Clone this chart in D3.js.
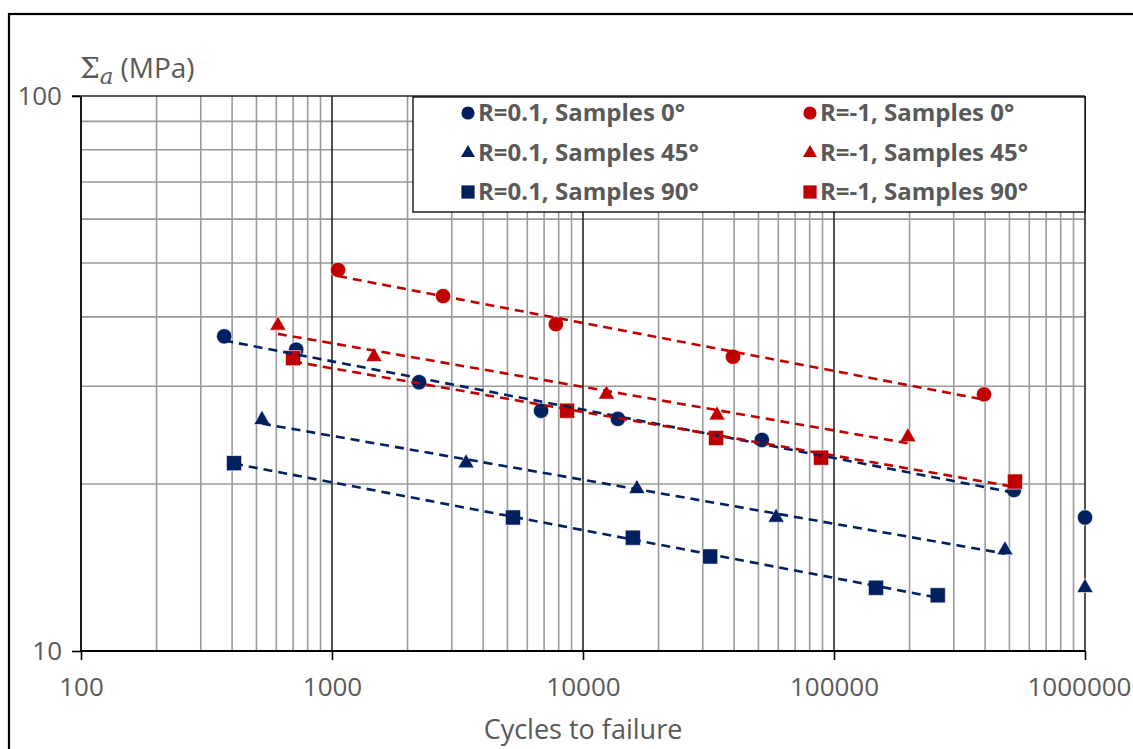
<!DOCTYPE html>
<html><head><meta charset="utf-8">
<script src="https://cdn.jsdelivr.net/npm/d3@7"></script>
<style>body{margin:0;background:#fff}svg{display:block}</style>
</head><body>
<script>
// ---- data (cycles, stress amplitude MPa) ----
const r01_0_N  = [372, 720, 2223, 6810, 13770, 51600, 521000];
const r01_0_S  = [36.9, 34.9, 30.5, 27.1, 26.2, 24.0, 19.5];
const r01_45_N = [526, 3420, 16400, 58800, 480000];
const r01_45_S = [26.1, 21.8, 19.6, 17.4, 15.2];
const r01_90_N = [407, 5260, 15800, 32100, 147000, 259000];
const r01_90_S = [21.8, 17.4, 16.0, 14.8, 13.0, 12.6];
const rm1_0_N  = [1057, 2770, 7800, 39600, 396000];
const rm1_0_S  = [48.6, 43.6, 38.8, 33.9, 29.0];
const rm1_45_N = [609, 1470, 12400, 34200, 197000];
const rm1_45_S = [38.6, 33.9, 29.0, 26.6, 24.3];
const rm1_90_N = [700, 8630, 33900, 88800, 526000];
const rm1_90_S = [33.7, 27.1, 24.2, 22.3, 20.2];
// run-outs (not included in trend lines)
const runout_0_N = [1000000];  const runout_0_S = [17.4];
const runout_45_N = [1000000]; const runout_45_S = [13.0];

const xTicks = [100, 1000, 10000, 100000, 1000000];
const yTicks = [10, 100];
const legendLabels = ["R=0.1, Samples 0°","R=-1, Samples 0°","R=0.1, Samples 45°","R=-1, Samples 45°","R=0.1, Samples 90°","R=-1, Samples 90°"];

const BLUE = "#002060", RED = "#C00000", GREY_TXT = "#595959";
const FONT = "'Open Sans', sans-serif";

const W = 1133, H = 749;
const svg = d3.select("body").append("svg").attr("width", W).attr("height", H);

const x = d3.scaleLog().domain([100, 1e6]).range([81, 1085]);
const y = d3.scaleLog().domain([10, 100]).range([651, 96]);

// outer frame
svg.append("rect").attr("x", 9).attr("y", 14).attr("width", W + 20).attr("height", H + 20)
  .attr("fill", "none").attr("stroke", "#000").attr("stroke-width", 2.2);

const grid = svg.append("g");
const minorX = [];
for (let d = 100; d < 1e6; d *= 10) for (let k = 2; k <= 9; k++) minorX.push(d * k);
grid.selectAll(".mx").data(minorX).join("line")
  .attr("x1", d => x(d)).attr("x2", d => x(d)).attr("y1", y(100)).attr("y2", y(10))
  .attr("stroke", "#9a9a9a").attr("stroke-width", 1.6);
const minorY = [20,30,40,50,60,70,80,90];
grid.selectAll(".my").data(minorY).join("line")
  .attr("x1", x(100)).attr("x2", x(1e6)).attr("y1", d => y(d)).attr("y2", d => y(d))
  .attr("stroke", "#9a9a9a").attr("stroke-width", 1.6);
grid.selectAll(".Mx").data(xTicks.slice(1)).join("line")
  .attr("x1", d => x(d)).attr("x2", d => x(d)).attr("y1", y(100)).attr("y2", y(10))
  .attr("stroke", "#262626").attr("stroke-width", 1.6);
grid.append("line").attr("x1", x(100) - 9).attr("x2", x(1e6)).attr("y1", y(100)).attr("y2", y(100))
  .attr("stroke", "#262626").attr("stroke-width", 1.6);

// axes
const xAxis = svg.append("g").attr("transform", `translate(0,${y(10)})`)
  .call(d3.axisBottom(x).tickValues(xTicks).tickFormat(d3.format("d")).tickSize(9).tickPadding(18));
const yAxis = svg.append("g").attr("transform", `translate(${x(100)},0)`)
  .call(d3.axisLeft(y).tickValues(yTicks).tickFormat(d3.format("d")).tickSize(9).tickPadding(10));
[xAxis, yAxis].forEach(a => {
  a.select(".domain").attr("stroke", "#000").attr("stroke-width", 1.8);
  a.selectAll(".tick line").attr("stroke", "#000").attr("stroke-width", 1.6);
  a.selectAll(".tick text").attr("fill", GREY_TXT).style("font-family", FONT).style("font-size", "26px");
});
// keep the last x label inside the picture
xAxis.selectAll(".tick text").filter(d => d === 1e6).attr("text-anchor", "end").attr("x", 1131 - x(1e6));
yAxis.select(".domain").attr("d", `M0,${y(100)}V${y(10)}`);
xAxis.select(".domain").attr("d", `M${x(100)},0H${x(1e6)}`);

// axis titles
svg.append("text").attr("x", 583).attr("y", 739).attr("text-anchor", "middle")
  .attr("fill", GREY_TXT).style("font-family", FONT).style("font-size", "27px").text("Cycles to failure");
const yt = svg.append("text").attr("x", 80).attr("y", 78).attr("fill", GREY_TXT).style("font-size", "28px");
yt.append("tspan").style("font-family", "'DejaVu Serif', serif").text("Σ");
yt.append("tspan").style("font-family", "'DejaVu Serif', serif").style("font-style", "italic")
  .style("font-size", "23px").attr("dy", 6).text("a");
yt.append("tspan").style("font-family", FONT).attr("dy", -6).attr("dx", 7).text("(MPa)");

// series
const series = [
  {N: r01_0_N,  S: r01_0_S,  c: BLUE, m: "circle"},
  {N: r01_45_N, S: r01_45_S, c: BLUE, m: "triangle"},
  {N: r01_90_N, S: r01_90_S, c: BLUE, m: "square"},
  {N: rm1_0_N,  S: rm1_0_S,  c: RED,  m: "circle"},
  {N: rm1_45_N, S: rm1_45_S, c: RED,  m: "triangle"},
  {N: rm1_90_N, S: rm1_90_S, c: RED,  m: "square"},
];
const extras = [
  {N: runout_0_N, S: runout_0_S, c: BLUE, m: "circle"},
  {N: runout_45_N, S: runout_45_S, c: BLUE, m: "triangle"},
];
const sym = {
  circle: d3.symbol(d3.symbolCircle, 185),
  triangle: d3.symbol(d3.symbolTriangle, 115),
  square: d3.symbol(d3.symbolSquare, 230),
};
const symLeg = {
  circle: d3.symbol(d3.symbolCircle, 135),
  triangle: d3.symbol(d3.symbolTriangle, 85),
  square: d3.symbol(d3.symbolSquare, 175),
};

const marks = svg.append("g");
[...series, ...extras].forEach(s => {
  const pts = s.N.map((n, i) => [n, s.S[i]]);
  marks.selectAll(null).data(pts).join("path")
    .attr("transform", d => `translate(${x(d[0])},${y(d[1])})`)
    .attr("d", sym[s.m]()).attr("fill", s.c).attr("stroke", "#fff").attr("stroke-width", 0.6);
});

// power-law trend lines (least squares in log-log space)
const trends = svg.append("g");
series.forEach(s => {
  const lx = s.N.map(Math.log10), ly = s.S.map(Math.log10);
  const n = lx.length, mx = d3.mean(lx), my = d3.mean(ly);
  let sxy = 0, sxx = 0;
  for (let i = 0; i < n; i++) { sxy += (lx[i]-mx)*(ly[i]-my); sxx += (lx[i]-mx)**2; }
  const b = sxy / sxx, a = my - b * mx;
  const n0 = d3.min(s.N), n1 = d3.max(s.N);
  const f = N => Math.pow(10, a + b * Math.log10(N));
  trends.append("line")
    .attr("x1", x(n0)).attr("y1", y(f(n0))).attr("x2", x(n1)).attr("y2", y(f(n1)))
    .attr("stroke", s.c).attr("stroke-width", 2.6).attr("stroke-dasharray", "9,6");
});

// legend
const lg = svg.append("g");
lg.append("rect").attr("x", 413).attr("y", 97).attr("width", 672).attr("height", 115)
  .attr("fill", "#fff").attr("stroke", "#000").attr("stroke-width", 1.3);
const legItems = [
  {m: "circle", c: BLUE}, {m: "circle", c: RED},
  {m: "triangle", c: BLUE}, {m: "triangle", c: RED},
  {m: "square", c: BLUE}, {m: "square", c: RED},
];
const rowsY = [113, 153, 192], colsX = [468, 810];
legItems.forEach((it, i) => {
  const cx = colsX[i % 2], cy = rowsY[Math.floor(i / 2)];
  lg.append("path").attr("transform", `translate(${cx},${cy})`).attr("d", symLeg[it.m]()).attr("fill", it.c);
  lg.append("text").attr("x", cx + 10).attr("y", cy).attr("dy", "0.35em")
    .attr("fill", GREY_TXT).style("font-family", FONT).style("font-weight", "bold").style("font-size", "24px")
    .text(legendLabels[i]);
});
</script>
</body></html>
